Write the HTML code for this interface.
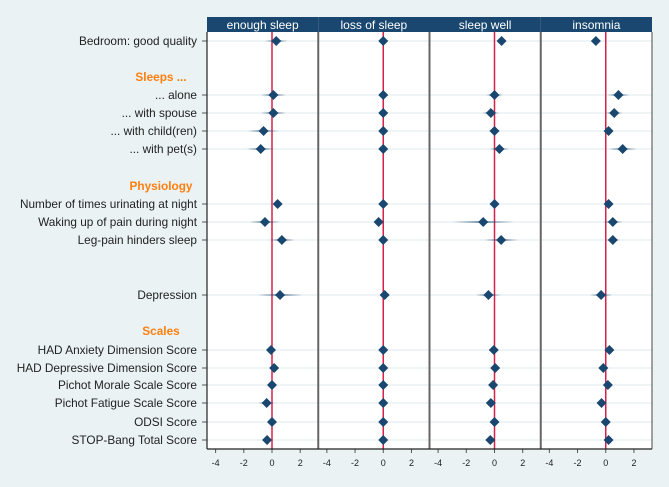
<!DOCTYPE html>
<html><head><meta charset="utf-8"><style>
body{margin:0;background:#eaf2f3;}
svg{display:block;font-family:"Liberation Sans",sans-serif;}
</style></head><body>
<svg id="c" width="669" height="487" viewBox="0 0 669 487">
<defs>
<linearGradient id="ci" x1="0" x2="1" y1="0" y2="0">
<stop offset="0" stop-color="#1a476f" stop-opacity="0"/>
<stop offset="0.5" stop-color="#1a476f" stop-opacity="0.6"/>
<stop offset="1" stop-color="#1a476f" stop-opacity="0"/>
</linearGradient>
</defs>
<rect x="0" y="0" width="669" height="487" fill="#eaf2f3"/>
</svg>
<script>
const panels = ["enough sleep","loss of sleep","sleep well","insomnia"];
const rowLabels = ["Bedroom: good quality","Sleeps ...","... alone","... with spouse","... with child(ren)","... with pet(s)","Physiology","Number of times urinating at night","Waking up of pain during night","Leg-pain hinders sleep","Depression","Scales","HAD Anxiety Dimension Score","HAD Depressive Dimension Score","Pichot Morale Scale Score","Pichot Fatigue Scale Score","ODSI Score","STOP-Bang Total Score"];
const rowY = [41,77,95,113,131,149,186,204,222,240,295,331,350,368,385,403,422,440];
const isHeading = [false,true,false,false,false,false,true,false,false,false,false,true,false,false,false,false,false,false];
const est1 = [0.3,null,0.1,0.1,-0.6,-0.8,null,0.4,-0.5,0.7,0.57,null,-0.07,0.15,0,-0.38,0,-0.35];
const est2 = [0,null,0,0,0,0,null,0,-0.33,0,0.1,null,0,0,0,0,0,0];
const est3 = [0.5,null,0,-0.26,0,0.35,null,0,-0.8,0.47,-0.43,null,-0.05,0.05,-0.1,-0.26,0,-0.3];
const est4 = [-0.7,null,0.9,0.6,0.2,1.2,null,0.2,0.5,0.5,-0.33,null,0.26,-0.17,0.15,-0.3,0,0.2];
const ci1 = [0.8,null,0.9,0.9,1.1,1.0,null,0.3,1.1,0.9,1.6,null,0.2,0.3,0.2,0.6,0.2,0.3];
const ci2 = [0.1,null,0.1,0.1,0.1,0.1,null,0.1,0.1,0.1,0.1,null,0.05,0.05,0.05,0.05,0.05,0.05];
const ci3 = [0.3,null,0.6,0.6,0.4,0.7,null,0.3,2.2,1.2,0.9,null,0.2,0.2,0.2,0.3,0.2,0.3];
const ci4 = [0.2,null,0.8,0.6,0.3,1.0,null,0.3,0.7,0.5,0.8,null,0.2,0.2,0.2,0.3,0.2,0.3];
const ticks = [-4,-2,0,2];
const ests = [est1,est2,est3,est4], cis = [ci1,ci2,ci3,ci4];

const NS="http://www.w3.org/2000/svg";
const svgEl=document.getElementById('c');
function mk(t,a){const e=document.createElementNS(NS,t);for(const k in a)e.setAttribute(k,a[k]);svgEl.appendChild(e);return e;}
const plotL=207,pw=111.25,plotT=32,plotB=449,scale=14.1,zoff=65;
function xs(p,v){return plotL+p*pw+zoff+v*scale;}

const pa=mk('rect',{x:plotL,y:plotT,width:pw*4,height:plotB-plotT,fill:'#fff'});



rowY.forEach((y,i)=>{
  if(isHeading[i]){
    const t=mk('text',{x:161,y:y+4,'text-anchor':'middle','font-size':'11.8','font-weight':'bold',fill:'#ff7f0e'});
    t.textContent=rowLabels[i];
    
    
    return;
  }
  const g=mk('line',{x1:plotL,x2:plotL+pw*4,y1:y,y2:y,stroke:'#eaf2f3','stroke-width':1.5});
  
  
  const tk=mk('line',{x1:202,x2:207,y1:y,y2:y,stroke:'#555','stroke-width':1});
  
  
  const t=mk('text',{x:197,y:y+4,'text-anchor':'end','font-size':'11.8',fill:'#222'});
  t.textContent=rowLabels[i];
  
  
});

panels.forEach((name,p)=>{
  const hx=plotL+p*pw;
  const h=mk('rect',{x:hx,y:17,width:pw,height:15,fill:'#1a476f'});
  
  
  const ht=mk('text',{x:hx+pw/2,y:29,'text-anchor':'middle','font-size':'12',fill:'#fff'});
  ht.textContent=name;
  
  
  const z=mk('line',{x1:xs(p,0),x2:xs(p,0),y1:plotT,y2:plotB,stroke:'#d62248','stroke-width':1.5});
  
  
  ticks.forEach(v=>{
    const x=xs(p,v);
    const tm=mk('line',{x1:x,x2:x,y1:plotB,y2:plotB+4,stroke:'#555'});
    
    
    const t=mk('text',{x:x,y:466,'text-anchor':'middle','font-size':'9',fill:'#222'});
    t.textContent=v;
    
    
  });
  ests[p].forEach((v,i)=>{
    if(v===null)return;
    const y=rowY[i],c=cis[p][i];
    const l=mk('rect',{x:xs(p,v-c),y:y-1,width:Math.max(1,2*c*scale),height:2,fill:'url(#ci)'});
    
    
    const x=xs(p,v);
    const d=mk('polygon',{points:`${x},${y-5} ${x+5},${y} ${x},${y+5} ${x-5},${y}`,fill:'#1a476f'});
    
    
  });
});
for(let p=0;p<=4;p++){
  const x=plotL+p*pw;
  const b=mk('line',{x1:x,x2:x,y1:plotT,y2:plotB,stroke:p==0?'#222':'#666','stroke-width':p==0||p==4?1.2:2});
  
  
}
const xb=mk('line',{x1:plotL,x2:plotL+pw*4,y1:plotB,y2:plotB,stroke:'#222','stroke-width':1.2});


</script>
</body></html>
